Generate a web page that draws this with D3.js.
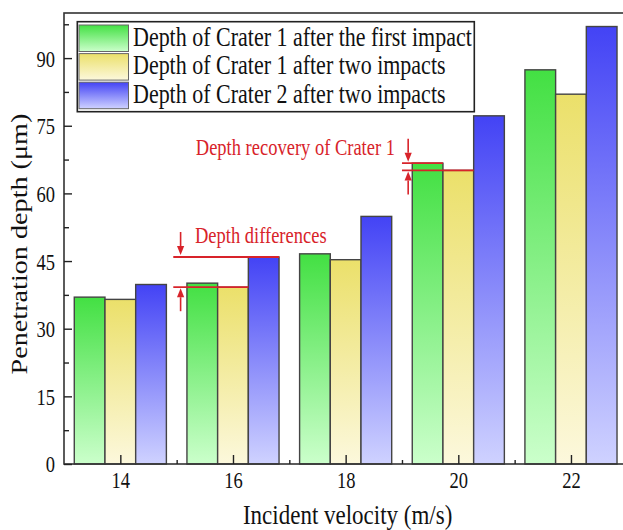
<!DOCTYPE html>
<html>
<head>
<meta charset="utf-8">
<script src="https://cdn.jsdelivr.net/npm/d3@7"></script>
<style>
  body { margin: 0; background: #fff; }
  text { font-family: "Liberation Serif", "Times New Roman", serif; }
</style>
</head>
<body>
<svg id="chart" width="623" height="530"></svg>
<script>
// velocities on the x axis
const velocity = [14, 16, 18, 20, 22];
// depths (µm)
const crater1First = [37.0, 40.1, 46.6, 66.7, 87.4];
const crater1Two   = [36.5, 39.2, 45.3, 65.1, 82.0];
const crater2Two   = [39.8, 45.9, 54.9, 77.2, 97.0];
const seriesNames = [
    "Depth of Crater 1 after the first impact",
    "Depth of Crater 1 after two impacts",
    "Depth of Crater 2 after two impacts"
];
const yTicks = [0, 15, 30, 45, 60, 75, 90];
const yMinor = [7.5, 22.5, 37.5, 52.5, 67.5, 82.5, 97.5];
const xMinor = [15, 17, 19, 21];

const svg = d3.select("#chart");
const SY = 1.2;      // picture is a bit taller than wide
const red = "#d8232a";
const cols = [["#43e043", "#cbffcb"], ["#ebe06a", "#fcf8dc"], ["#4343f5", "#cfd2ff"]];

let x = d3.scaleLinear().domain([13, 23]).range([64, 627.3]),
    y = d3.scaleLinear().domain([0, 100]).range([464, 13]);
const bw = 0.545;   // bar width in velocity units

let defs = svg.append("defs");
cols.forEach((c, i) => {
    let lg = defs.append("linearGradient")
        .attr("id", "grad" + i).attr("x1", 0).attr("y1", 0).attr("x2", 0).attr("y2", 1);
    lg.append("stop").attr("offset", "0%").attr("stop-color", c[0]);
    lg.append("stop").attr("offset", "100%").attr("stop-color", c[1]);
});

function stretch(sel) {
    sel.each(function () {
        let t = d3.select(this),
            tx = +t.attr("x") || 0, ty = +t.attr("y") || 0;
        t.attr("x", 0).attr("y", 0)
         .attr("transform", "translate(" + tx + "," + ty + ") scale(1," + SY + ")");
    });
}

// bars
let series = [crater1First, crater1Two, crater2Two];
series.forEach((vals, i) => {
    svg.append("g").selectAll("rect").data(vals).join("rect")
        .attr("x", (d, j) => x(velocity[j] + (i - 1.5) * bw))
        .attr("width", x(bw) - x(0))
        .attr("y", d => y(d))
        .attr("height", d => y(0) - y(d))
        .attr("fill", "url(#grad" + i + ")")
        .attr("stroke", "#444").attr("stroke-width", 1.4);
});

// frame
svg.append("rect").attr("x", x(13)).attr("y", y(100))
    .attr("width", x(23) - x(13)).attr("height", y(0) - y(100))
    .attr("fill", "none").attr("stroke", "#333").attr("stroke-width", 1.6);

// axes, ticks pointing inward
let yAx = svg.append("g").attr("transform", "translate(" + x(13) + ",0)")
    .call(d3.axisLeft(y).tickValues(yTicks).tickSize(-8).tickPadding(9));
yAx.append("g").call(d3.axisLeft(y).tickValues(yMinor).tickSize(-5).tickFormat(""));
let xAx = svg.append("g").attr("transform", "translate(0," + y(0) + ")")
    .call(d3.axisBottom(x).tickValues(velocity).tickSize(-9).tickPadding(11));
xAx.append("g").call(d3.axisBottom(x).tickValues(xMinor).tickSize(-4).tickFormat(""));
svg.selectAll(".domain").remove();
svg.selectAll(".tick line").attr("stroke", "#222").attr("stroke-width", 1.4);
yAx.selectAll("text").attr("font-size", 18.5).attr("fill", "#111").attr("dy", "0.36em")
    .attr("font-family", "Liberation Serif");
xAx.selectAll("text").attr("font-size", 18.5).attr("fill", "#111").attr("dy", "0.6em")
    .attr("font-family", "Liberation Serif");
stretch(yAx.selectAll("text"));
stretch(xAx.selectAll("text"));

// axis titles
svg.append("text").attr("transform", "translate(27,244) scale(1," + SY + ") rotate(-90)")
    .attr("text-anchor", "middle").attr("font-size", 23.5).attr("fill", "#111")
    .text("Penetration depth (\u03bcm)");
svg.append("text").attr("transform", "translate(" + (x(18) + 2) + ",524) scale(1," + SY + ")")
    .attr("text-anchor", "middle").attr("font-size", 23).attr("fill", "#111")
    .text("Incident velocity (m/s)");

// legend
let lg = svg.append("g");
lg.append("rect").attr("x", 77.3).attr("y", 21.7).attr("width", 397).attr("height", 90)
    .attr("fill", "#fff").attr("stroke", "#222").attr("stroke-width", 1.6);
seriesNames.forEach((s, i) => {
    let ry = 25 + i * 28.6;
    lg.append("rect").attr("x", 79).attr("y", ry).attr("width", 49.5).attr("height", 26.5)
        .attr("fill", "url(#grad" + i + ")").attr("stroke", "#666").attr("stroke-width", 1);
    lg.append("text").attr("transform", "translate(133," + (ry + 20.5) + ") scale(1," + SY + ")")
        .attr("font-size", 22).attr("fill", "#111").text(s);
});

// annotations
function arrow(g, xv, yTip, dir) {
    // dir 1: points down, -1: points up
    let px = x(xv), len = 23, hl = 9, hw = 3.6;
    g.append("line").attr("x1", px).attr("x2", px)
        .attr("y1", yTip - dir * len).attr("y2", yTip - dir * hl)
        .attr("stroke", red).attr("stroke-width", 1.6);
    g.append("path").attr("fill", red)
        .attr("d", "M" + px + "," + yTip + "L" + (px - hw) + "," + (yTip - dir * hl) +
                   "L" + (px + hw) + "," + (yTip - dir * hl) + "Z");
}
let an = svg.append("g");
function hline(x0, x1, v) {
    an.append("line").attr("x1", x(x0)).attr("x2", x(x1)).attr("y1", y(v)).attr("y2", y(v))
        .attr("stroke", red).attr("stroke-width", 1.8);
}
// differences at 16 m/s
hline(14.94, 16 + 1.5 * bw, crater2Two[1]);
hline(14.94, 16 + 0.5 * bw, crater1Two[1]);
arrow(an, 15.07, y(crater2Two[1]) - 2, 1);
arrow(an, 15.07, y(crater1Two[1]) + 1, -1);
an.append("text").attr("transform", "translate(195,243) scale(1," + SY + ")")
    .attr("font-size", 18.5).attr("fill", red).text("Depth differences");
// recovery at 20 m/s
hline(19, 20 - 0.5 * bw, crater1First[3]);
hline(19, 20 + 0.5 * bw, crater1Two[3]);
arrow(an, 19.11, y(crater1First[3]) - 1.5, 1);
arrow(an, 19.11, y(crater1Two[3]) + 1, -1);
an.append("text").attr("transform", "translate(395,155) scale(1," + SY + ")")
    .attr("text-anchor", "end").attr("font-size", 18.5).attr("fill", red)
    .text("Depth recovery of Crater 1");
</script>
</body>
</html>
